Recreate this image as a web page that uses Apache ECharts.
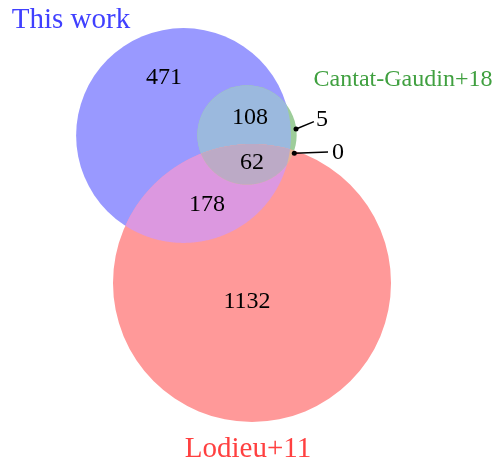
<!DOCTYPE html>
<html>
<head>
<meta charset="utf-8">
<script src="https://cdn.jsdelivr.net/npm/echarts@6/dist/echarts.min.js"></script>
<style>
html,body{margin:0;padding:0;background:#fff}
#chart{width:495px;height:461px}
</style>
</head>
<body>
<div id="chart"></div>
<script>
// sets: 0 = This work, 1 = Cantat-Gaudin+18, 2 = Lodieu+11
var setNames = ['This work', 'Cantat-Gaudin+18', 'Lodieu+11'];
var setColors = ['#4040ff', '#40a040', '#ff4040'];

// venn regions (which sets they belong to) and counts
var regionSets = [[0], [1], [2], [0, 1], [0, 2], [1, 2], [0, 1, 2]];
var regionCounts = [471, 5, 1132, 108, 178, 0, 62];
var regionColors = ['#9999ff', '#9dcd9a', '#ff9999', '#9bb9de', '#dc98e0', '#e6b496', '#bcaac6'];

// layout (data units, radius = sqrt(set total))
var centres = [[48.90, 36.11], [65.82, 35.97], [67.15, 75.41]];
var labelPos = [[43.70, 20.25], [85.80, 31.44], [65.82, 79.94], [66.62, 30.91], [55.16, 54.09], [90.07, 40.24], [67.15, 42.90]];
var callouts = {1: [[78.88, 34.38], [83.65, 32.40]], 5: [[78.42, 40.85], [87.40, 40.50]]};
var namePos = [[18.92, 4.80], [107.39, 20.79], [66.09, 119.10]];
var nameSize = [29, 24, 29];

var totals = setNames.map(function (n, i) {
    var s = 0;
    regionSets.forEach(function (rs, k) { if (rs.indexOf(i) >= 0) s += regionCounts[k]; });
    return s;
});
var radii = totals.map(function (t) { return Math.sqrt(t); });

function regionPoly(sets) {
    var pts = [];
    sets.forEach(function (i) {
        var c = centres[i], r = radii[i];
        for (var k = 0; k < 720; k++) {
            var a = k / 720 * 2 * Math.PI;
            var p = [c[0] + r * Math.cos(a), c[1] + r * Math.sin(a)];
            var ok = sets.every(function (j) {
                if (j === i) return true;
                return Math.hypot(p[0] - centres[j][0], p[1] - centres[j][1]) <= radii[j];
            });
            if (ok) pts.push(p);
        }
    });
    var cx = 0, cy = 0;
    pts.forEach(function (p) { cx += p[0]; cy += p[1]; });
    cx /= pts.length; cy /= pts.length;
    pts.sort(function (a, b) { return Math.atan2(a[1] - cy, a[0] - cx) - Math.atan2(b[1] - cy, b[0] - cx); });
    return pts;
}

var FONT = '"Liberation Serif", "Times New Roman", serif';
var DY = 2;   // baseline nudge for serif text
var myChart = echarts.init(document.getElementById('chart'));
myChart.setOption({
    animation: false,
    grid: {left: 0, right: 0, top: 0, bottom: 0},
    xAxis: {type: 'value', min: 0, max: 131.9, show: false},
    yAxis: {type: 'value', min: 0, max: 122.85, inverse: true, show: false},
    series: [
        {   // regions
            type: 'custom',
            clip: false,
            silent: true,
            data: regionSets.map(function (s, i) { return [i]; }),
            renderItem: function (params, api) {
                var sets = regionSets[params.dataIndex];
                var color = regionColors[params.dataIndex];
                if (sets.length === 1) {
                    var c = api.coord(centres[sets[0]]);
                    var r = api.size([radii[sets[0]], 0])[0];
                    return {type: 'circle', shape: {cx: c[0], cy: c[1], r: r}, style: {fill: color}};
                }
                var pts = regionPoly(sets).map(function (p) { return api.coord(p); });
                return {type: 'polygon', shape: {points: pts}, style: {fill: color}};
            }
        },
        {   // counts
            type: 'custom',
            clip: false,
            silent: true,
            data: regionCounts.map(function (v, i) { return [i]; }),
            renderItem: function (params, api) {
                var i = params.dataIndex;
                var p = api.coord(labelPos[i]);
                var children = [{
                    type: 'text',
                    style: {text: String(regionCounts[i]), x: p[0], y: p[1] + DY, align: 'center', verticalAlign: 'middle',
                        font: '24px ' + FONT, fill: '#000'}
                }];
                if (callouts[i]) {
                    var a = api.coord(callouts[i][0]), b = api.coord(callouts[i][1]);
                    children.push({type: 'line', shape: {x1: a[0], y1: a[1], x2: b[0], y2: b[1]}, style: {stroke: '#000', lineWidth: 1.5}});
                    children.push({type: 'circle', shape: {cx: a[0], cy: a[1], r: 2.5}, style: {fill: '#000'}});
                }
                return {type: 'group', children: children};
            }
        },
        {   // set names
            type: 'custom',
            clip: false,
            silent: true,
            data: setNames.map(function (n, i) { return [i]; }),
            renderItem: function (params, api) {
                var i = params.dataIndex;
                var p = api.coord(namePos[i]);
                return {
                    type: 'text',
                    style: {text: setNames[i], x: p[0], y: p[1] + DY, align: 'center', verticalAlign: 'middle',
                        font: nameSize[i] + 'px ' + FONT, fill: setColors[i]}
                };
            }
        }
    ]
});
</script>
</body>
</html>
